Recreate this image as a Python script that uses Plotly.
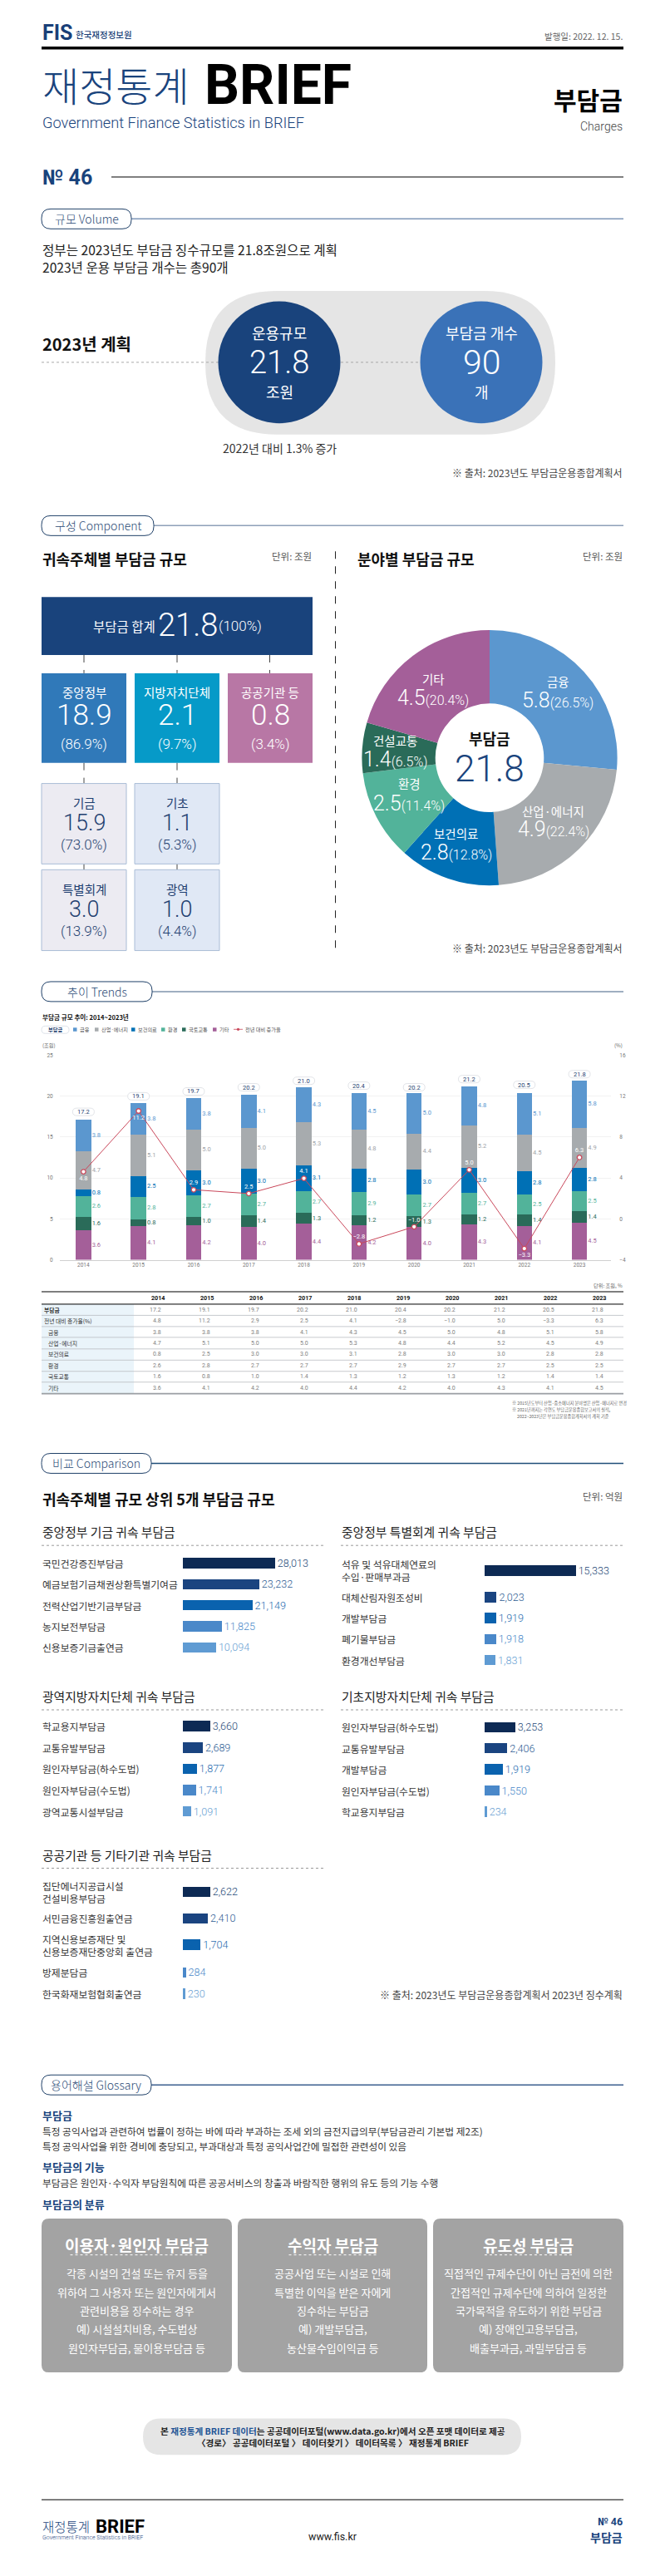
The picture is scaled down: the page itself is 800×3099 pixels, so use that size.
import plotly.graph_objects as go

W, H = 800, 3099
KR = "Noto Sans CJK KR"
LAT = "Roboto"
NAVY = "#19437c"

# ---------- data ----------
years = ["2014", "2015", "2016", "2017", "2018", "2019", "2020", "2021", "2022", "2023"]
total = [17.2, 19.1, 19.7, 20.2, 21.0, 20.4, 20.2, 21.2, 20.5, 21.8]
growth = [4.8, 11.2, 2.9, 2.5, 4.1, -2.8, -1.0, 5.0, -3.3, 6.3]
finance = [3.8, 3.8, 3.8, 4.1, 4.3, 4.5, 5.0, 4.8, 5.1, 5.8]
industry = [4.7, 5.1, 5.0, 5.0, 5.3, 4.8, 4.4, 5.2, 4.5, 4.9]
health = [0.8, 2.5, 3.0, 3.0, 3.1, 2.8, 3.0, 3.0, 2.8, 2.8]
environment = [2.6, 2.8, 2.7, 2.7, 2.7, 2.9, 2.7, 2.7, 2.5, 2.5]
transport = [1.6, 0.8, 1.0, 1.4, 1.3, 1.2, 1.3, 1.2, 1.4, 1.4]
others = [3.6, 4.1, 4.2, 4.0, 4.4, 4.2, 4.0, 4.3, 4.1, 4.5]

pie_labels = ["금융", "산업·에너지", "보건의료", "환경", "건설교통", "기타"]
pie_values = [5.8, 4.9, 2.8, 2.5, 1.4, 4.5]
pie_shares = ["26.5%", "22.4%", "12.8%", "11.4%", "6.5%", "20.4%"]

fund_names = ["국민건강증진부담금", "예금보험기금채권상환특별기여금", "전력산업기반기금부담금", "농지보전부담금", "신용보증기금출연금"]
fund_vals = [28013, 23232, 21149, 11825, 10094]
special_names = ["석유 및 석유대체연료의<br>수입·판매부과금", "대체산림자원조성비", "개발부담금", "폐기물부담금", "환경개선부담금"]
special_vals = [15333, 2023, 1919, 1918, 1831]
metro_names = ["학교용지부담금", "교통유발부담금", "원인자부담금(하수도법)", "원인자부담금(수도법)", "광역교통시설부담금"]
metro_vals = [3660, 2689, 1877, 1741, 1091]
basic_names = ["원인자부담금(하수도법)", "교통유발부담금", "개발부담금", "원인자부담금(수도법)", "학교용지부담금"]
basic_vals = [3253, 2406, 1919, 1550, 234]
public_names = ["집단에너지공급시설<br>건설비용부담금", "서민금융진흥원출연금", "지역신용보증재단 및<br>신용보증재단중앙회 출연금", "방제분담금", "한국화재보험협회출연금"]
public_vals = [2622, 2410, 1704, 284, 230]

# ---------- styles ----------
C_FIN, C_IND, C_HEA, C_ENV, C_TRA, C_OTH = "#5b97cf", "#a7abae", "#0070b5", "#52b39a", "#2a6b59", "#a45f99"
BAR_SHADES = ["#0d2a54", "#1a4480", "#0a62ae", "#4a88c9", "#5f9bd3"]
TXT_SHADES = ["#274a78", "#2f5d94", "#2a6cb0", "#4a88c9", "#6a9fd3"]

annotations, shapes, traces = [], [], []


def T(x, y, text, size=12, color="#222222", anchor="left", bold=False, font=KR, weight=None):
    f = dict(family=font, size=size, color=color)
    if weight:
        f["weight"] = weight
    elif bold:
        f["weight"] = 700
    annotations.append(dict(x=x / W, y=1 - y / H, xref="paper", yref="paper", text=text, showarrow=False,
                            xanchor=anchor, yanchor="middle", font=f, borderpad=0, align=anchor))


def N(x, y, text, size, color="#ffffff", anchor="center"):
    T(x, y, text, size, color, anchor, font=LAT, weight=300)


def L(x0, y0, x1, y1, color="#000000", width=1, dash="solid"):
    shapes.append(dict(type="line", xref="paper", yref="paper", x0=x0 / W, x1=x1 / W, y0=1 - y0 / H, y1=1 - y1 / H,
                       line=dict(color=color, width=width, dash=dash), layer="below"))


def R(x0, y0, x1, y1, fill, line=None, lw=1):
    shapes.append(dict(type="rect", xref="paper", yref="paper", x0=x0 / W, x1=x1 / W, y0=1 - y0 / H, y1=1 - y1 / H,
                       fillcolor=fill, line=dict(color=line or fill, width=lw if line else 0), layer="below"))


def RR(x0, y0, x1, y1, r, fill, line=None, lw=1):
    px = lambda v: v / W
    py = lambda v: 1 - v / H
    p = (f"M {px(x0 + r)} {py(y0)} L {px(x1 - r)} {py(y0)} Q {px(x1)} {py(y0)} {px(x1)} {py(y0 + r)} "
         f"L {px(x1)} {py(y1 - r)} Q {px(x1)} {py(y1)} {px(x1 - r)} {py(y1)} "
         f"L {px(x0 + r)} {py(y1)} Q {px(x0)} {py(y1)} {px(x0)} {py(y1 - r)} "
         f"L {px(x0)} {py(y0 + r)} Q {px(x0)} {py(y0)} {px(x0 + r)} {py(y0)} Z")
    shapes.append(dict(type="path", xref="paper", yref="paper", path=p, fillcolor=fill,
                       line=dict(color=line or fill, width=lw if line else 0), layer="below"))


def CIRC(cx, cy, r, fill):
    shapes.append(dict(type="circle", xref="paper", yref="paper", x0=(cx - r) / W, x1=(cx + r) / W,
                       y0=1 - (cy + r) / H, y1=1 - (cy - r) / H, fillcolor=fill, line=dict(width=0), layer="below"))


def section(x1, y, label, linecolor="#7f97b8"):
    L(x1, y, 750, y, linecolor, 1.5)
    RR(50, y - 12, x1, y + 12, 11, "#ffffff", "#1f4068", 1)
    T((50 + x1) / 2, y, label, 14, "#2a4a75", "center", weight=300)


# ---------- header ----------
T(50, 36, "FIS", 25, "#1a3f78", bold=True, font=LAT)
T(90, 37.5, "한국재정정보원", 10.5, "#1a3f78", weight=500)
T(750, 40, "발행일: 2022. 12. 15.", 10.5, "#666666", "right")
L(50, 54, 750, 54, "#000000", 3.5)
T(50, 97, "재정통계", 48, NAVY, weight=300)
T(245, 99, "BRIEF", 66, "#000000", bold=True, font=LAT)
T(50, 144, "Government Finance Statistics in BRIEF", 18.2, NAVY, font=LAT, weight=300)
T(750, 115, "부담금", 30, "#000000", "right", bold=True)
T(750, 148, "Charges", 14, "#444444", "right", font=LAT, weight=300)
T(50, 210, "№ 46", 25, NAVY, bold=True, font=LAT)
L(134, 209.5, 750, 209.5, "#000000", 1)

# ---------- volume ----------
section(158, 260, "규모 Volume")
T(50, 297, "정부는 2023년도 부담금 징수규모를 21.8조원으로 계획", 15.6, "#222222")
T(50, 317.5, "2023년 운용 부담금 개수는 총90개", 15.6, "#222222")
RR(247, 347, 668, 520, 86, "#e5e5e5")
L(50, 433, 506, 433, "#a8a8a8", 1, "dot")
CIRC(336, 433, 73.5, "#19437c")
CIRC(579, 433, 73.5, "#3a72b8")
T(50, 411, "2023년 계획", 20, "#111111", bold=True)
T(336, 397, "운용규모", 18, "#ffffff", "center")
N(336, 433, "21.8", 38)
T(336, 468, "조원", 18, "#ffffff", "center")
T(579, 397, "부담금 개수", 18, "#ffffff", "center")
N(579, 433, "90", 41)
T(579, 468, "개", 18, "#ffffff", "center")
T(336, 536, "2022년 대비 1.3% 증가", 14, "#333333", "center")
T(750, 566, "※ 출처: 2023년도 부담금운용종합계획서", 12, "#444444", "right")

# ---------- component ----------
section(185, 630, "구성 Component", "#8ea0b8")
T(50, 670, "귀속주체별 부담금 규모", 18, "#111111", bold=True)
T(376, 667, "단위: 조원", 11.5, "#555555", "right")
T(429, 670, "분야별 부담금 규모", 18, "#111111", bold=True)
T(750, 667, "단위: 조원", 11.5, "#555555", "right")
L(403.5, 661, 403.5, 1146, "#222222", 1, "dash")

R(50, 716, 376, 786, "#19437c")
T(149, 751, "부담금 합계", 15.5, "#ffffff", "center")
N(226, 750, "21.8", 38)
N(289, 751, "(100%)", 17)
for x in (101, 213, 324.5):
    L(x, 786, x, 808, "#444444", 1, "dash")
for x in (101, 213):
    L(x, 916, x, 941, "#444444", 1, "dash")
    L(x, 1038, x, 1045, "#444444", 1)
for (x0, x1, col, lab, val, pct) in [(50, 152, "#3079b9", "중앙정부", "18.9", "(86.9%)"),
                                     (162, 264, "#069ac8", "지방자치단체", "2.1", "(9.7%)"),
                                     (274, 376, "#b877a5", "공공기관 등", "0.8", "(3.4%)")]:
    R(x0, 808, x1, 916, col)
    xc = (x0 + x1) / 2
    T(xc, 831, lab, 14.5, "#ffffff", "center")
    N(xc, 859, val, 35)
    N(xc, 893, pct, 17)
for (x0, x1, y0, y1, fill, lab, val, pct) in [
    (50, 152, 941, 1038, "#ecebf2", "기금", "15.9", "(73.0%)"),
    (162, 264, 941, 1038, "#e0e8f5", "기초", "1.1", "(5.3%)"),
    (50, 152, 1045, 1142.5, "#ecebf2", "특별회계", "3.0", "(13.9%)"),
    (162, 264, 1045, 1142.5, "#e0e8f5", "광역", "1.0", "(4.4%)")]:
    R(x0, y0, x1, y1, fill, "#a9bcd6", 1)
    xc = (x0 + x1) / 2
    T(xc, y0 + 23, lab, 14.5, "#1f3f70", "center")
    N(xc, y0 + 48, val, 27, "#1f3f70")
    N(xc, y0 + 74, pct, 17, "#1f3f70")

traces.append(go.Pie(labels=pie_labels, values=pie_values, sort=False, direction="clockwise", rotation=0,
                     hole=0.425, textinfo="none", showlegend=False, marker=dict(colors=[C_FIN, C_IND, C_HEA, C_ENV, C_TRA, C_OTH]),
                     domain=dict(x=[(589 - 154) / W, (589 + 154) / W], y=[1 - (910 + 154) / H, 1 - (910 - 154) / H])))
pie_pos = [(671, 818, 841), (665.5, 973.6, 996), (548.5, 1001, 1024), (492, 941.4, 965), (475.5, 889, 912), (521, 815, 838)]
for (x, y1, y2), n, v, s in zip(pie_pos, pie_labels, pie_values, pie_shares):
    T(x, y1, n, 14.5, "#ffffff", "center")
    N(x, y2, f'{v}<span style="font-size:16px">({s})</span>', 25)
T(589, 886, "부담금", 18, "#111111", "center", bold=True)
N(589, 923, "21.8", 44, NAVY)
T(750, 1139, "※ 출처: 2023년도 부담금운용종합계획서", 12, "#444444", "right")

# ---------- trends ----------
section(183, 1192, "추이 Trends", "#7f93ad")
T(50, 1223, "부담금 규모 추이: 2014~2023년", 7.6, "#111111", bold=True)
RR(50, 1233.5, 83, 1242.5, 4.5, "#ffffff", "#cfd6e0", 0.7)
T(66.5, 1238, "부담금", 6.2, "#1f3f70", "center", bold=True)
for x, c, n in [(88, C_FIN, "금융"), (114, C_IND, "산업·에너지"), (158, C_HEA, "보건의료"),
                (194, C_ENV, "환경"), (219, C_TRA, "국토교통"), (256, C_OTH, "기타")]:
    R(x, 1235.5, x + 4.5, 1240, c)
    T(x + 7, 1237.5, n, 6.2, "#555555")
L(281, 1237.5, 292, 1237.5, "#c9485b", 0.8)
CIRC(286.5, 1237.5, 1.6, "#c9485b")
T(294, 1237.5, "전년 대비 증가율", 6.2, "#555555")
T(50, 1257, "(조원)", 6.2, "#666666")
T(750, 1257, "(%)", 6.2, "#666666", "right")

xi = list(range(len(years)))
stack = [("기타", others, C_OTH), ("국토교통", transport, C_TRA), ("환경", environment, C_ENV),
         ("보건의료", health, C_HEA), ("산업·에너지", industry, C_IND), ("금융", finance, C_FIN)]
base = [0.0] * len(years)
label_colors = {C_IND: "#a0a4a8"}
for name, vals, col in stack:
    traces.append(go.Bar(x=xi, y=vals, name=name, width=0.279, marker=dict(color=col, line=dict(width=0)),
                         xaxis="x", yaxis="y", showlegend=False))
    mids = [b + v / 2 for b, v in zip(base, vals)]
    traces.append(go.Scatter(x=[i + 0.155 for i in xi], y=mids, mode="text", text=[f"{v:.1f}" for v in vals],
                             textposition="middle right", xaxis="x", yaxis="y", showlegend=False,
                             textfont=dict(family=LAT, size=7.5, color=label_colors.get(col, col))))
    base = [b + v for b, v in zip(base, vals)]

growth_pos = ["bottom center", "bottom center"] + ["top center"] * 6 + ["bottom center", "top center"]
traces.append(go.Scatter(x=xi, y=growth, mode="lines+markers+text", name="전년 대비 증가율", xaxis="x", yaxis="y2",
                         line=dict(color="#c9485b", width=1),
                         marker=dict(size=5.5, color="#ffffff", line=dict(color="#c9485b", width=1.3)),
                         text=[f"{v:.1f}".replace("-", "−") for v in growth], textposition=growth_pos,
                         textfont=dict(family=LAT, size=7.5, color="#ffffff"), showlegend=False, cliponaxis=False))
for i, t in zip(xi, total):
    shapes.append(dict(type="path", xref="x", yref="y", xsizemode="pixel", ysizemode="pixel", xanchor=i, yanchor=t,
                       path="M -8 4 L 8 4 Q 13 4 13 8.5 Q 13 13 8 13 L -8 13 Q -13 13 -13 8.5 Q -13 4 -8 4 Z",
                       fillcolor="#ffffff", line=dict(color="#d5d9de", width=0.7), layer="above"))
    annotations.append(dict(x=i, y=t, xref="x", yref="y", text=f"{t:.1f}", showarrow=False, yshift=8.5, yanchor="middle",
                            font=dict(family=LAT, size=7.5, color="#1f3f70")))

# ---------- table ----------
T(750, 1546, "단위: 조원, %", 6.2, "#666666", "right")
R(50, 1569, 161, 1677, "#eaf4fa")
L(50, 1554, 750, 1554, "#000000", 1)
L(50, 1569, 750, 1569, "#000000", 1)
for y in (1582.5, 1596, 1609, 1623, 1636.5, 1650, 1663):
    L(50, y, 750, y, "#b9bdc2", 0.8)
L(50, 1677, 750, 1677, "#9a9ea3", 1.6)
rows = [("부담금", total, 52), ("전년 대비 증가율(%)", growth, 52), ("금융", finance, 57), ("산업·에너지", industry, 57),
        ("보건의료", health, 57), ("환경", environment, 57), ("국토교통", transport, 57), ("기타", others, 57)]
row_y = [1575.7, 1589.3, 1602.7, 1616, 1629.7, 1643.3, 1656.7, 1670]
for i, y_ in enumerate(years):
    T(190 + 59.03 * i, 1561.5, y_, 7.2, "#111111", "center", bold=True, font=LAT)
for (name, vals, lx), y in zip(rows, row_y):
    T(lx, y, name, 6.8, "#333333", bold=name == "부담금")
    for i, v in enumerate(vals):
        T(195.3 + 59.03 * i, y, f"{v:.1f}".replace("-", "−"), 7, "#808080", "right", font=LAT)
T(615, 1688, "※ 2015년도부터 산업·중소에너지 분야명은 산업·에너지로 변경", 5.2, "#666666")
T(615, 1696, "※ 2021년까지는 각연도 부담금운용종합보고서의 실적,", 5.2, "#666666")
T(621, 1704.7, "2022~2023년은 부담금운용종합계획서의 계획 기준", 5.2, "#666666")

# ---------- comparison ----------
section(182, 1761, "비교 Comparison", "#1f4e79")
T(50, 1804, "귀속주체별 규모 상위 5개 부담금 규모", 18, "#111111", bold=True)
T(750, 1801, "단위: 억원", 11.5, "#555555", "right")

panels = [
    ("중앙정부 기금 귀속 부담금", 50, 220, 1843, 1860, 390, fund_names, fund_vals, 3.95e-3, [1881.3, 1906.7, 1932, 1957.7, 1983]),
    ("중앙정부 특별회계 귀속 부담금", 410, 583, 1843, 1860, 750, special_names, special_vals, 7.15e-3, [1890.3, 1922.3, 1947.7, 1973, 1998.3]),
    ("광역지방자치단체 귀속 부담금", 50, 220, 2041.7, 2058.3, 390, metro_names, metro_vals, 8.92e-3, [2078, 2104, 2129.3, 2155, 2180.7]),
    ("기초지방자치단체 귀속 부담금", 410, 583, 2041.7, 2058.3, 750, basic_names, basic_vals, 11.3e-3, [2079.3, 2104.7, 2130, 2155.7, 2181]),
    ("공공기관 등 기타기관 귀속 부담금", 50, 220, 2233, 2249.3, 390, public_names, public_vals, 12.45e-3, [2277.7, 2309.7, 2341.7, 2375, 2400.7]),
]
axes = {}
for n, (title, lx, bx, hy, dy, rx, names, vals, k, ys) in enumerate(panels):
    ax = n + 3
    T(lx, hy, title, 14.8, "#222222")
    L(lx, dy, rx, dy, "#9a9a9a", 1, "dot")
    y0, y1 = ys[0] - 14, ys[-1] + 14
    axes[f"xaxis{ax}"] = dict(domain=[bx / W, rx / W], range=[0, (rx - bx) / k], visible=False, anchor=f"y{ax}", fixedrange=True)
    axes[f"yaxis{ax}"] = dict(domain=[1 - y1 / H, 1 - y0 / H], range=[y1, y0], visible=False, anchor=f"x{ax}", fixedrange=True)
    traces.append(go.Bar(x=vals, y=ys, orientation="h", width=12.4, marker=dict(color=BAR_SHADES, line=dict(width=0)),
                         text=[f"{v:,}" for v in vals], textposition="outside", textangle=0, cliponaxis=False,
                         constraintext="none", textfont=dict(family=LAT, size=12.6, color=TXT_SHADES, weight=300),
                         xaxis=f"x{ax}", yaxis=f"y{ax}", showlegend=False))
    for nm, y in zip(names, ys):
        T(lx, y, nm, 11.8, "#333333")
T(750, 2401.7, "※ 출처: 2023년도 부담금운용종합계획서 2023년 징수계획", 12, "#444444", "right")

# ---------- glossary ----------
section(182, 2510.7, "용어해설 Glossary", "#3c5f8f")
T(50, 2546.6, "부담금", 13, NAVY, bold=True)
T(50, 2565.8, "특정 공익사업과 관련하여 법률이 정하는 바에 따라 부과하는 조세 외의 금전지급의무(부담금관리 기본법 제2조)", 11.7, "#333333")
T(50, 2584.3, "특정 공익사업을 위한 경비에 충당되고, 부과대상과 특정 공익사업간에 밀접한 관련성이 있음", 11.7, "#333333")
T(50, 2609.4, "부담금의 기능", 13, NAVY, bold=True)
T(50, 2628.6, "부담금은 원인자·수익자 부담원칙에 따른 공공서비스의 창출과 바람직한 행위의 유도 등의 기능 수행", 11.7, "#333333")
T(50, 2654.4, "부담금의 분류", 13, NAVY, bold=True)
cards = [(50, 279, "이용자·원인자 부담금", 160, ["각종 시설의 건설 또는 유지 등을", "위하여 그 사용자 또는 원인자에게서", "관련비용을 징수하는 경우", "예) 시설설치비용, 수도법상", "원인자부담금, 물이용부담금 등"]),
         (286, 514, "수익자 부담금", 105, ["공공사업 또는 시설로 인해", "특별한 이익을 받은 자에게", "징수하는 부담금", "예) 개발부담금,", "농산물수입이익금 등"]),
         (521, 750, "유도성 부담금", 105, ["직접적인 규제수단이 아닌 금전에 의한", "간접적인 규제수단에 의하여 일정한", "국가목적을 유도하기 위한 부담금", "예) 장애인고용부담금,", "배출부과금, 과밀부담금 등"])]
for x0, x1, title, tw, lines in cards:
    RR(x0, 2672, x1, 2857.5, 9, "#a3a3a3")
    xc = (x0 + x1) / 2
    T(xc, 2703.5, title, 19, "#ffffff", "center", bold=True)
    L(xc - tw / 2, 2715.7, xc + tw / 2, 2715.7, "#ffffff", 1, "dot")
    for l, y in zip(lines, (2738, 2760.4, 2782.6, 2805, 2827.6)):
        T(xc, y, l, 13, "#ffffff", "center")

RR(172, 2913, 627, 2957, 22, "#e5e5e5")
T(400, 2928, '본 <span style="color:#1f5496">재정통계 BRIEF 데이터</span>는 공공데이터포털(www.data.go.kr)에서 오픈 포맷 데이터로 제공', 10.6, "#222222", "center", bold=True)
T(400, 2942, "〈경로〉 공공데이터포털 〉 데이터찾기 〉 데이터목록 〉 재정통계 BRIEF", 10.6, "#222222", "center", bold=True)

# ---------- footer ----------
L(50, 3011, 750, 3011, "#000000", 1)
T(50, 3042.5, "재정통계", 15.5, NAVY, weight=300)
T(114, 3043, "BRIEF", 22, "#000000", bold=True, font=LAT)
T(50, 3057, "Government Finance Statistics in BRIEF", 7, NAVY, font=LAT, weight=300)
T(400, 3055.5, "www.fis.kr", 12.5, "#222222", "center", font=LAT)
T(750, 3037, "№ 46", 12.5, NAVY, "right", bold=True, font=LAT)
T(750, 3055.5, "부담금", 14, NAVY, "right", bold=True)

# ---------- layout ----------
# Right-hand axis sits on the same pixel band as the left one; the plotted line runs at the reference's own scale.
y2_lo, y2_hi = -4.48, 17.09
tick_px = lambda frac: y2_lo + (y2_hi - y2_lo) * frac
fig = go.Figure(data=traces)
fig.update_layout(
    width=W, height=H, margin=dict(l=0, r=0, t=0, b=0, pad=0), paper_bgcolor="#ffffff", plot_bgcolor="rgba(0,0,0,0)",
    barmode="stack", showlegend=False, annotations=annotations, shapes=shapes,
    font=dict(family=KR),
    xaxis=dict(domain=[72 / W, 735 / W], range=[-0.428, 9.572], tickvals=xi, ticktext=years, showgrid=False, zeroline=False,
               showline=True, linecolor="#d0d0d0", linewidth=1, ticks="", tickfont=dict(family=LAT, size=6.5, color="#777777"), fixedrange=True),
    yaxis=dict(domain=[1 - 1515.5 / H, 1 - 1268.5 / H], range=[0, 25], tickvals=[0, 5, 10, 15, 20, 25], gridcolor="#f2f2f2", gridwidth=0.8,
               zeroline=False, ticks="outside", ticklen=6, tickcolor="rgba(0,0,0,0)", tickfont=dict(family=LAT, size=6.5, color="#777777"), fixedrange=True),
    yaxis2=dict(domain=[1 - 1515.5 / H, 1 - 1268.5 / H], range=[y2_lo, y2_hi], overlaying="y", side="right", showgrid=False, zeroline=False,
                tickvals=[tick_px(f / 5) for f in range(6)], ticktext=["−4", "0", "4", "8", "12", "16"], ticks="outside", ticklen=8,
                tickcolor="rgba(0,0,0,0)", tickfont=dict(family=LAT, size=6.5, color="#777777"), fixedrange=True),
    **axes,
)
fig.write_html("out.html", config={"displayModeBar": False},
               post_script="document.body.style.margin='0';document.documentElement.style.overflow='hidden';")
